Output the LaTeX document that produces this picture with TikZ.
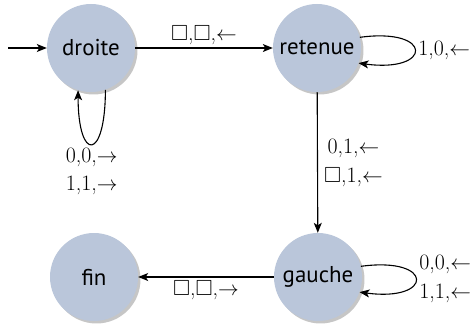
\documentclass[tikz,border=0pt]{standalone}
\usepackage{amssymb}
\usepackage{fontspec}
\newfontfamily\nodefont{PT Sans}
\usetikzlibrary{arrows.meta,shadows}
\definecolor{nodefill}{RGB}{186,198,218}
\begin{document}
\begin{tikzpicture}[x=1bp,y=1bp,
  state/.style={circle,fill=nodefill,minimum size=88bp,inner sep=0pt,
    font=\nodefont\fontsize{23}{27}\selectfont,
    drop shadow={opacity=0.45,shadow xshift=2.5pt,shadow yshift=-2.5pt}},
  lab/.style={font=\fontsize{22}{29}\selectfont,align=center,inner sep=1pt},
  edge/.style={line width=1.1pt,-{Stealth[length=10pt,width=8pt,inset=2.5pt]}}]
\useasboundingbox (0,0) rectangle (476,327);
\node[state] (droite) at (91,279) {droite};
\node[state] (retenue) at (317,279) {retenue};
\node[state] (fin) at (94,50) {fin};
\node[state] (gauche) at (318,50) {gauche};
\coordinate (start) at (8,279);
\draw[edge] (start) -- (droite);
\draw[edge] (droite) -- node[lab,above=2bp] {$\square$,$\square$,$\leftarrow$} (retenue);
\draw[edge] (droite.-71) .. controls +(0,-72) and +(0,-72) .. (droite.-107)
  node[lab,pos=0.5,below=2bp] {0,0,$\rightarrow$\\1,1,$\rightarrow$};
\draw[edge] (retenue.14) .. controls +(74,10) and +(74,-10) .. (retenue.-20)
  node[lab,pos=0.5,right=2bp] {1,0,$\leftarrow$};
\draw[edge] (retenue) -- node[lab,right=5bp] {0,1,$\leftarrow$\\$\square$,1,$\leftarrow$} (gauche);
\draw[edge] (gauche.14) .. controls +(74,10) and +(74,-10) .. (gauche.-20)
  node[lab,pos=0.5,right=2bp] {0,0,$\leftarrow$\\1,1,$\leftarrow$};
\draw[edge] (gauche) -- node[lab,below=2bp] {$\square$,$\square$,$\rightarrow$} (fin);
\end{tikzpicture}
\end{document}
